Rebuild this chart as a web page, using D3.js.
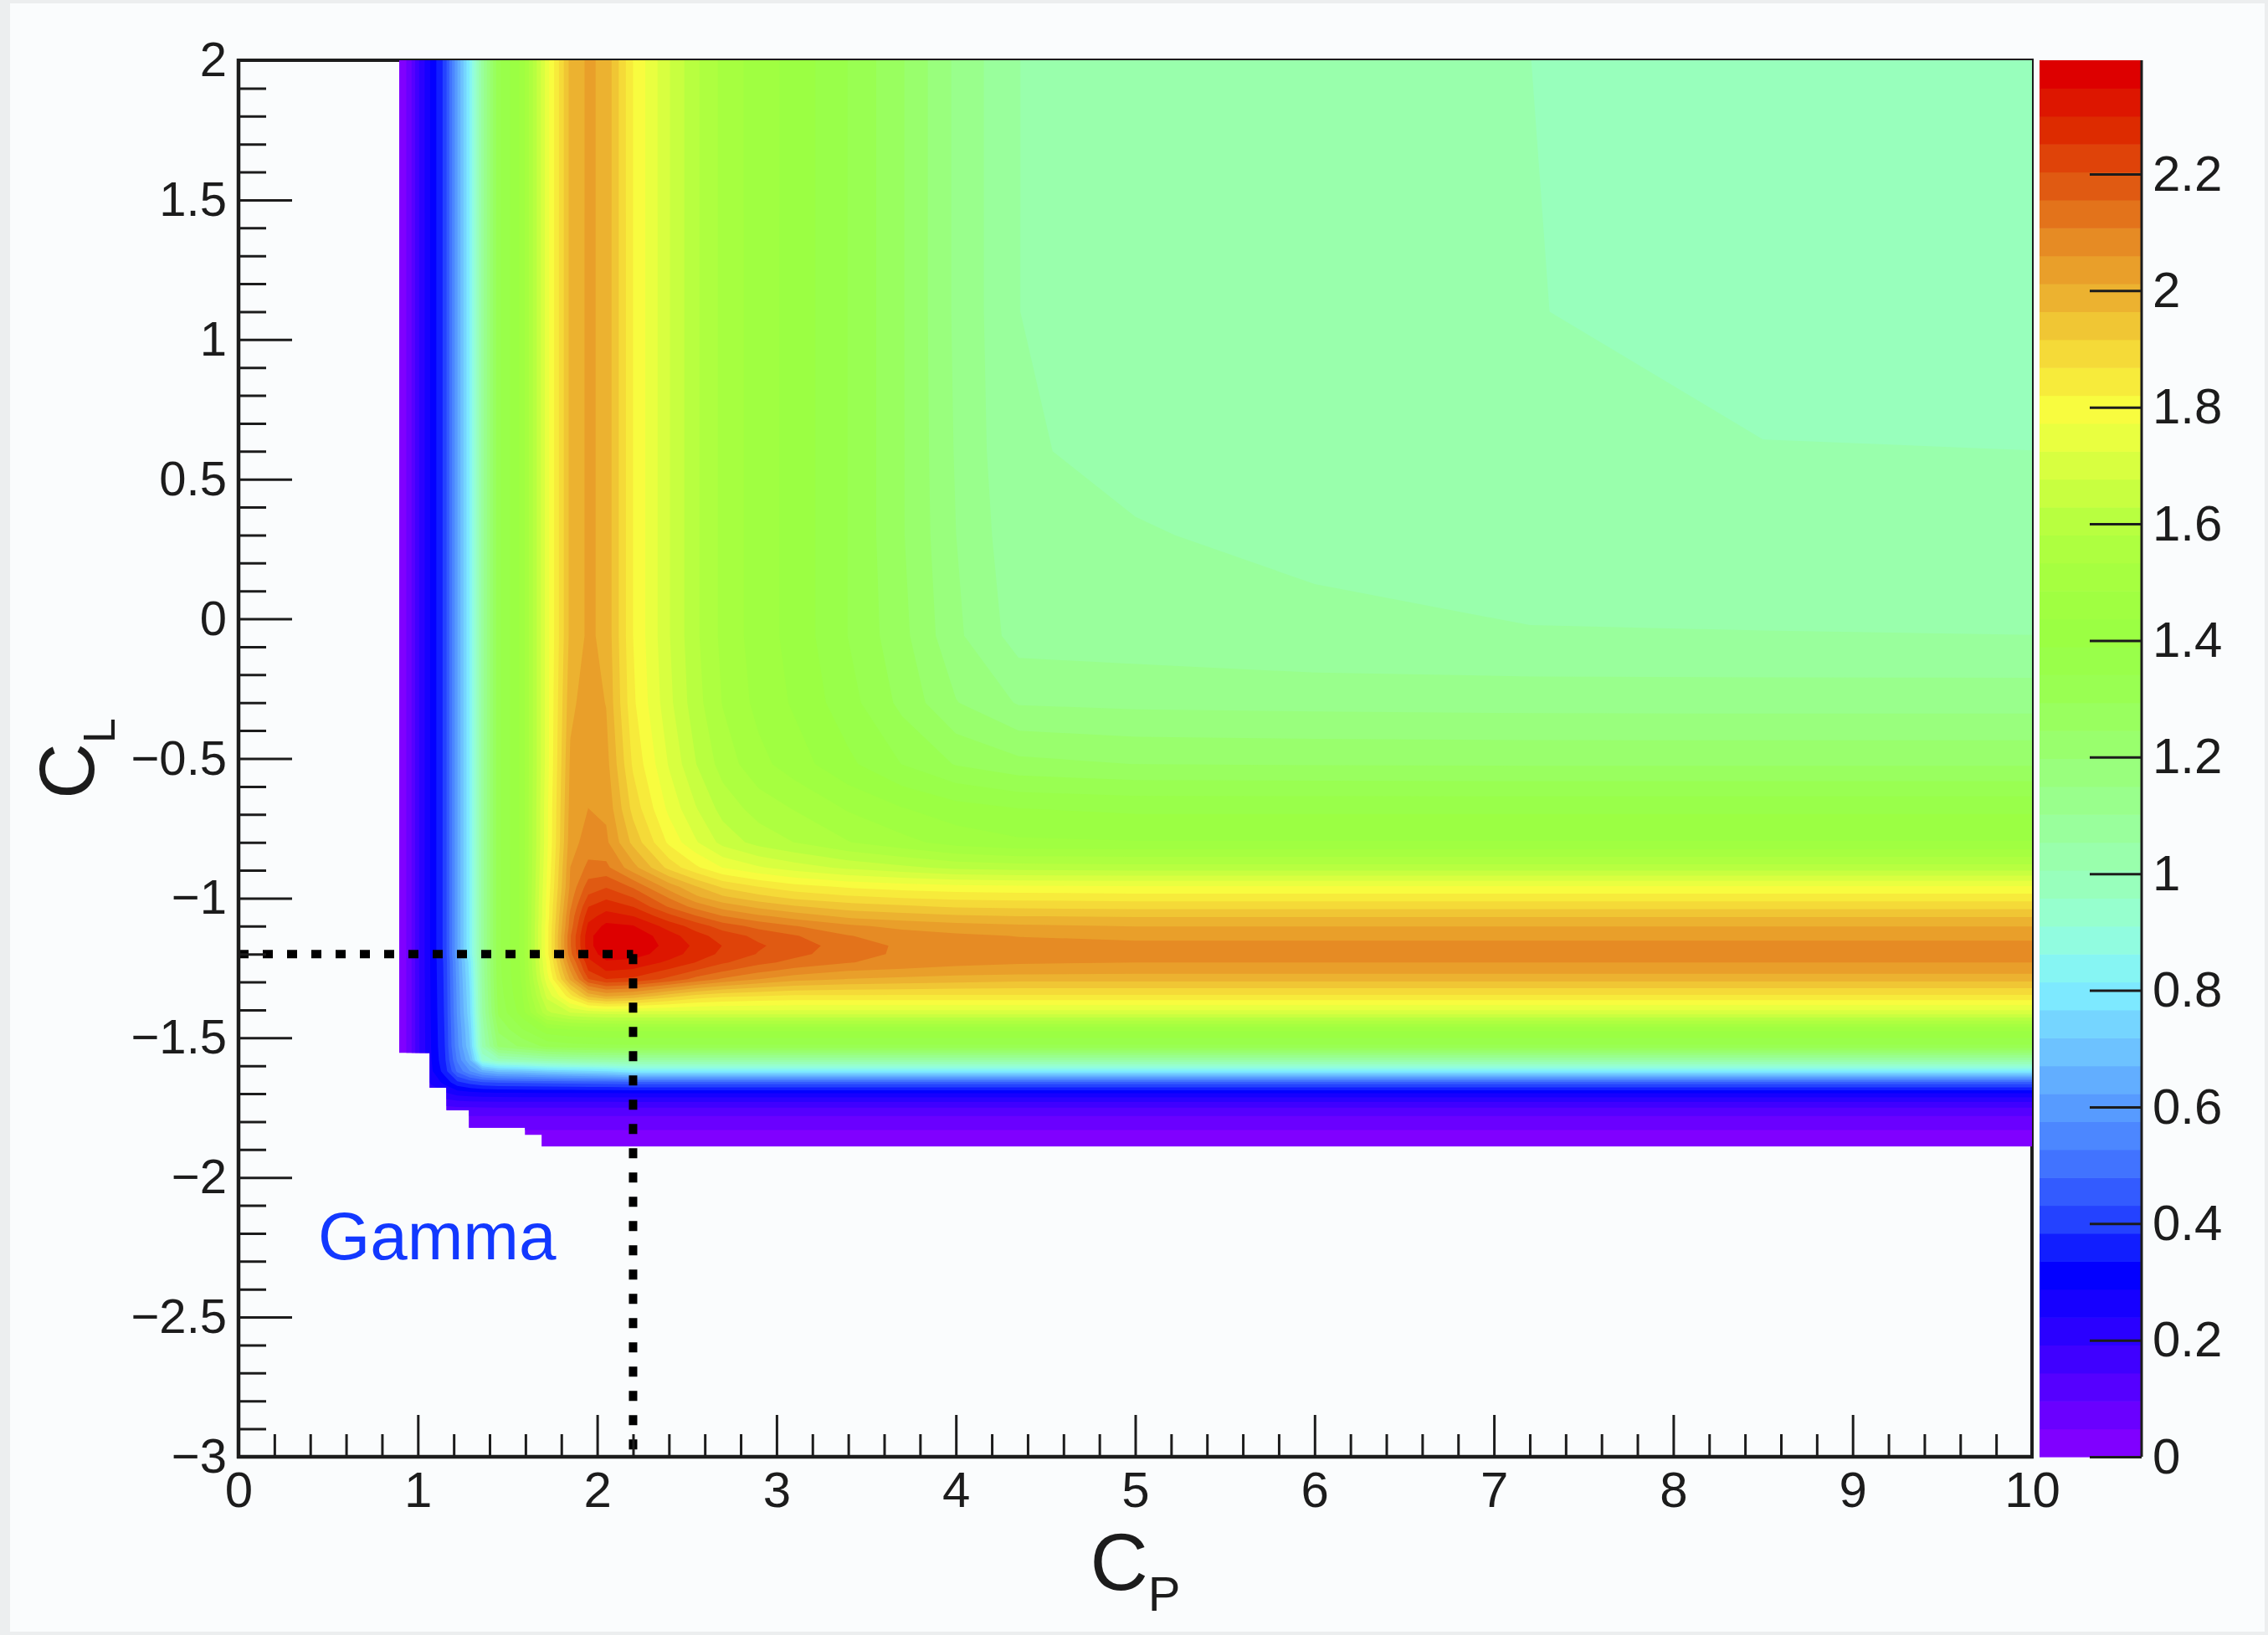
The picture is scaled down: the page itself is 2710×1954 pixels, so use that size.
<!DOCTYPE html>
<html>
<head>
<meta charset="utf-8">
<script src="https://cdn.jsdelivr.net/npm/d3@7"></script>
<style>
  html, body { margin: 0; padding: 0; background: #fafcfd; }
  svg { display: block; }
  text { font-family: "Liberation Sans", Arial, Helvetica, sans-serif; }
</style>
</head>
<body>
<svg id="chart" width="2710" height="1954"></svg>
<script>
// ---- data -------------------------------------------------------------
// grid nodes of the map (C_P across, C_L up)
const cpNodes = [0.89, 0.95, 1.0, 1.07, 1.15, 1.22, 1.29, 1.36, 1.45, 1.58, 1.72, 1.85, 1.95, 2.05,
                 2.2, 2.4, 2.55, 2.7, 2.9, 3.1, 3.4, 3.7, 4.0, 4.35, 5.0, 6.0, 7.2, 8.5, 10.0];
const clNodes = [-1.89, -1.84, -1.79, -1.74, -1.70, -1.66, -1.62, -1.58, -1.53, -1.47, -1.41,
                 -1.35, -1.29, -1.26, -1.23, -1.20, -1.17, -1.135, -1.10, -1.065, -1.03, -0.995,
                 -0.96, -0.89, -0.80, -0.68, -0.52, -0.30, -0.06, 0.30, 0.60, 1.10, 2.0];
// z values, one row per clNodes entry (bottom row first), one column per cpNodes entry
const zValues = [
  [0.007,0.01,0.01,0.01,0.01,0.01,0.01,0.01,0.01,0.01,0.01,0.01,0.01,0.01,0.01,0.01,0.01,0.01,0.01,0.01,0.01,0.01,0.01,0.01,0.01,0.01,0.01,0.01,0.01],
  [0.01,0.033,0.039,0.04,0.04,0.04,0.04,0.04,0.04,0.04,0.04,0.04,0.04,0.04,0.04,0.04,0.04,0.04,0.04,0.04,0.04,0.04,0.04,0.04,0.04,0.04,0.04,0.04,0.04],
  [0.01,0.048,0.073,0.077,0.078,0.079,0.08,0.08,0.08,0.08,0.08,0.08,0.08,0.08,0.08,0.08,0.08,0.08,0.08,0.08,0.08,0.08,0.08,0.08,0.08,0.08,0.08,0.08,0.08],
  [0.01,0.056,0.12,0.14,0.149,0.155,0.157,0.158,0.159,0.159,0.16,0.16,0.16,0.16,0.16,0.16,0.16,0.16,0.16,0.16,0.16,0.16,0.16,0.16,0.16,0.16,0.16,0.16,0.16],
  [0.01,0.059,0.151,0.201,0.229,0.255,0.265,0.271,0.274,0.275,0.277,0.277,0.278,0.278,0.28,0.28,0.28,0.28,0.28,0.28,0.28,0.28,0.28,0.28,0.28,0.28,0.28,0.28,0.28],
  [0.01,0.06,0.168,0.245,0.302,0.369,0.401,0.423,0.435,0.439,0.445,0.448,0.451,0.453,0.46,0.46,0.46,0.46,0.46,0.46,0.46,0.46,0.46,0.46,0.46,0.46,0.46,0.46,0.46],
  [0.01,0.06,0.176,0.273,0.358,0.49,0.573,0.643,0.686,0.70,0.728,0.743,0.754,0.765,0.80,0.80,0.80,0.80,0.80,0.80,0.80,0.80,0.80,0.80,0.80,0.80,0.80,0.80,0.80],
  [0.01,0.06,0.177,0.28,0.374,0.534,0.666,0.913,0.983,1.002,1.028,1.038,1.043,1.046,1.05,1.05,1.05,1.05,1.05,1.05,1.05,1.05,1.05,1.05,1.05,1.05,1.05,1.05,1.05],
  [0.01,0.06,0.178,0.283,0.383,0.562,0.717,1.012,1.21,1.255,1.307,1.321,1.326,1.329,1.33,1.33,1.33,1.33,1.33,1.33,1.33,1.33,1.33,1.33,1.33,1.33,1.33,1.33,1.33],
  [0.01,0.06,0.179,0.284,0.386,0.57,0.732,1.032,1.255,1.337,1.419,1.439,1.446,1.449,1.45,1.45,1.45,1.45,1.45,1.45,1.45,1.45,1.45,1.45,1.45,1.45,1.45,1.45,1.45],
  [0.01,0.06,0.179,0.286,0.389,0.583,0.755,1.056,1.302,1.411,1.618,1.676,1.693,1.699,1.70,1.70,1.70,1.70,1.70,1.70,1.70,1.70,1.70,1.70,1.70,1.70,1.70,1.70,1.70],
  [0.01,0.06,0.179,0.287,0.391,0.588,0.765,1.064,1.315,1.431,1.69,1.85,1.98,2.02,2.0,1.94,1.9,1.88,1.87,1.86,1.86,1.86,1.86,1.86,1.86,1.86,1.86,1.86,1.86],
  [0.01,0.06,0.179,0.288,0.393,0.595,0.777,1.071,1.324,1.443,1.75,2.02,2.2,2.25,2.24,2.19,2.14,2.1,2.06,2.03,2.01,2.0,1.99,1.98,1.98,1.98,1.98,1.98,1.98],
  [0.01,0.06,0.18,0.289,0.394,0.6,0.785,1.074,1.326,1.446,1.77,2.06,2.25,2.3,2.29,2.24,2.2,2.16,2.12,2.09,2.06,2.05,2.04,2.035,2.03,2.03,2.03,2.03,2.03],
  [0.01,0.06,0.18,0.289,0.395,0.602,0.79,1.076,1.328,1.448,1.78,2.1,2.28,2.34,2.33,2.29,2.25,2.21,2.17,2.14,2.11,2.09,2.075,2.065,2.06,2.06,2.06,2.06,2.06],
  [0.01,0.06,0.18,0.29,0.40,0.62,0.82,1.08,1.33,1.45,1.8,2.14,2.32,2.37,2.37,2.32,2.28,2.24,2.2,2.17,2.125,2.1,2.085,2.075,2.07,2.07,2.07,2.07,2.07],
  [0.01,0.06,0.18,0.29,0.40,0.62,0.82,1.08,1.33,1.45,1.8,2.15,2.33,2.39,2.39,2.33,2.29,2.25,2.21,2.18,2.13,2.1,2.085,2.075,2.07,2.07,2.07,2.07,2.07],
  [0.01,0.06,0.18,0.29,0.40,0.62,0.82,1.08,1.33,1.45,1.8,2.15,2.33,2.39,2.38,2.32,2.27,2.23,2.19,2.16,2.11,2.085,2.07,2.058,2.05,2.05,2.05,2.05,2.05],
  [0.01,0.06,0.18,0.29,0.40,0.62,0.82,1.08,1.33,1.45,1.8,2.13,2.31,2.36,2.35,2.28,2.23,2.18,2.14,2.11,2.07,2.045,2.03,2.02,2.01,2.01,2.01,2.01,2.01],
  [0.01,0.06,0.18,0.29,0.40,0.62,0.82,1.08,1.33,1.45,1.79,2.12,2.28,2.32,2.3,2.22,2.16,2.11,2.07,2.04,2.0,1.985,1.972,1.965,1.96,1.96,1.96,1.96,1.96],
  [0.01,0.06,0.18,0.29,0.40,0.62,0.82,1.08,1.33,1.45,1.79,2.1,2.25,2.28,2.25,2.15,2.09,2.04,2.0,1.97,1.94,1.925,1.91,1.905,1.90,1.90,1.90,1.90,1.90],
  [0.01,0.06,0.18,0.29,0.40,0.62,0.82,1.08,1.33,1.45,1.785,2.085,2.21,2.24,2.2,2.1,2.02,1.97,1.93,1.9,1.875,1.86,1.85,1.845,1.84,1.84,1.84,1.84,1.84],
  [0.01,0.06,0.18,0.29,0.40,0.62,0.82,1.08,1.33,1.45,1.78,2.07,2.18,2.2,2.15,2.04,1.97,1.91,1.87,1.84,1.815,1.8,1.79,1.785,1.78,1.78,1.78,1.78,1.78],
  [0.01,0.06,0.18,0.29,0.40,0.62,0.82,1.08,1.33,1.45,1.77,2.06,2.12,2.12,2.03,1.9,1.83,1.77,1.73,1.70,1.665,1.64,1.615,1.605,1.60,1.60,1.60,1.60,1.60],
  [0.01,0.06,0.18,0.29,0.40,0.62,0.82,1.08,1.33,1.45,1.76,2.04,2.08,2.07,1.95,1.81,1.73,1.66,1.61,1.58,1.535,1.50,1.465,1.445,1.44,1.44,1.44,1.44,1.44],
  [0.01,0.06,0.18,0.29,0.40,0.62,0.82,1.08,1.33,1.45,1.76,2.03,2.06,2.05,1.9,1.76,1.68,1.61,1.56,1.53,1.48,1.44,1.41,1.39,1.38,1.38,1.38,1.38,1.38],
  [0.01,0.06,0.18,0.29,0.40,0.62,0.82,1.08,1.33,1.45,1.75,2.02,2.045,2.03,1.86,1.72,1.63,1.56,1.5,1.46,1.4,1.34,1.29,1.26,1.245,1.242,1.24,1.24,1.24],
  [0.01,0.06,0.18,0.29,0.40,0.62,0.82,1.08,1.33,1.45,1.75,2.0,2.035,2.01,1.83,1.69,1.6,1.53,1.47,1.43,1.36,1.28,1.2,1.145,1.138,1.134,1.131,1.13,1.13],
  [0.01,0.06,0.18,0.29,0.40,0.62,0.82,1.08,1.33,1.45,1.75,1.98,2.02,2.0,1.82,1.68,1.59,1.52,1.46,1.42,1.34,1.26,1.16,1.08,1.075,1.062,1.056,1.055,1.054],
  [0.01,0.06,0.18,0.29,0.40,0.62,0.82,1.08,1.33,1.45,1.75,1.98,2.02,2.0,1.82,1.68,1.59,1.52,1.46,1.42,1.34,1.25,1.15,1.066,1.056,1.046,1.035,1.031,1.03],
  [0.01,0.06,0.18,0.29,0.40,0.62,0.82,1.08,1.33,1.45,1.75,1.98,2.02,2.0,1.82,1.68,1.59,1.52,1.46,1.42,1.34,1.25,1.145,1.057,1.046,1.03,1.015,1.007,1.006],
  [0.01,0.06,0.18,0.29,0.40,0.62,0.82,1.08,1.33,1.45,1.75,1.98,2.02,2.0,1.82,1.68,1.59,1.52,1.46,1.42,1.34,1.25,1.14,1.054,1.04,1.026,1.007,0.994,0.99],
  [0.01,0.06,0.18,0.29,0.40,0.62,0.82,1.08,1.33,1.45,1.75,1.98,2.02,2.0,1.82,1.68,1.59,1.52,1.46,1.42,1.34,1.25,1.14,1.054,1.04,1.025,1.006,0.99,0.98]
];
// lower-left edge of the filled region (staircase of empty cells)
const stepCp = [0.896, 1.067, 1.160, 1.285, 1.597, 1.690];
const stepCl = [-1.554, -1.679, -1.759, -1.822, -1.847, -1.889];

// axis ranges and ticks
const cpDomain = [0, 10];
const clDomain = [-3, 2];
const xMajor = d3.range(0, 10.001, 1);
const xMinor = d3.range(0, 10.001, 0.2);
const yMajor = d3.range(-3, 2.001, 0.5);
const yMinor = d3.range(-3, 2.001, 0.1);
const zTicks = [0, 0.2, 0.4, 0.6, 0.8, 1.0, 1.2, 1.4, 1.6, 1.8, 2.0, 2.2];
const zMax = 2.395;
const nContours = 50;

// colour palette
const paletteValues = [0, 0.1, 0.2, 0.3, 0.4, 0.5, 0.6, 0.7, 0.8, 0.9, 1.0, 1.1, 1.2, 1.3,
                       1.4, 1.5, 1.6, 1.7, 1.8, 1.9, 2.0, 2.1, 2.2, 2.3, 2.395];
const paletteColors = ["#8000ff","#5400ff","#2800ff","#0000ff","#2848ff","#4478ff","#5aa0ff",
                       "#70c8ff","#80f0ff","#95ffd8","#99ffb4","#99ff94","#99ff74","#99ff56",
                       "#99ff44","#a4ff40","#b4ff40","#d4ff40","#f8ff40","#f6dc38","#ecb430",
                       "#e68c24","#e05a12","#dd2a00","#dd0000"];

// marked working point
const markCp = 2.2;
const markCl = -1.2;
const noteText = "Gamma";

// ---- layout -----------------------------------------------------------
const W = 2710, H = 1954;
const frame = { left: 285, right: 2428, top: 72, bottom: 1741 };
const bar = { left: 2437, right: 2559 };
const ink = "#1c1c1c";
const fmt = d3.format("~g");

const x = d3.scaleLinear(cpDomain, [frame.left, frame.right]);
const y = d3.scaleLinear(clDomain, [frame.bottom, frame.top]);
const z = d3.scaleLinear([0, zMax], [frame.bottom, frame.top]);
const palette = d3.scaleLinear(paletteValues, paletteColors).interpolate(d3.interpolateRgb);
const step = zMax / nContours;
const bandColor = k => palette(k * zMax / (nContours - 1));

const svg = d3.select("#chart");

// page
svg.append("rect").attr("width", W).attr("height", H).attr("fill", "#eceeef");
svg.append("rect").attr("x", 12).attr("y", 4).attr("width", W - 16).attr("height", H - 8)
  .attr("fill", "#fafcfd");

// frame (drawn first; the map covers its inner half)
svg.append("rect")
  .attr("x", frame.left).attr("y", frame.top)
  .attr("width", frame.right - frame.left).attr("height", frame.bottom - frame.top)
  .attr("fill", "none").attr("stroke", ink).attr("stroke-width", 4);

// ---- filled contour map -------------------------------------------------
const nx = cpNodes.length, ny = clNodes.length;
const ix = d3.scaleLinear().domain(d3.range(nx)).range(cpNodes).clamp(true);
const iy = d3.scaleLinear().domain(d3.range(ny)).range(clNodes).clamp(true);
const gridToPixel = d3.geoTransform({
  point(gx, gy) { this.stream.point(x(ix(gx - 0.5)), y(iy(gy - 0.5))); }
});
const path = d3.geoPath(gridToPixel);
const bands = d3.contours()
  .size([nx, ny])
  .thresholds(d3.range(nContours).map(k => k * step))(zValues.flat());

// clip to the filled region
const edge = [[stepCp[0], clDomain[1]]];
stepCp.forEach((c, i) => {
  edge.push([c, stepCl[i]]);
  edge.push([i < stepCp.length - 1 ? stepCp[i + 1] : cpDomain[1], stepCl[i]]);
});
edge.push([cpDomain[1], clDomain[1]]);
svg.append("clipPath").attr("id", "mapClip")
  .append("polygon")
  .attr("points", edge.map(p => [x(p[0]), y(p[1])].join(",")).join(" "));

svg.append("g").attr("clip-path", "url(#mapClip)")
  .selectAll("path").data(bands).join("path")
  .attr("d", path)
  .attr("fill", (d, k) => bandColor(k))
  .attr("fill-rule", "evenodd");

// ---- colour bar ---------------------------------------------------------
svg.append("g").selectAll("rect").data(d3.range(nContours)).join("rect")
  .attr("x", bar.left).attr("width", bar.right - bar.left)
  .attr("y", k => z((k + 1) * step))
  .attr("height", k => z(k * step) - z((k + 1) * step) + 0.6)
  .attr("fill", k => bandColor(k));

const zAxis = svg.append("g").attr("transform", `translate(${bar.right},0)`)
  .call(d3.axisRight(z).tickValues(zTicks).tickFormat(fmt).tickSize(-62).tickPadding(13));
zAxis.select(".domain").remove();
zAxis.selectAll("line").attr("stroke", ink).attr("stroke-width", 3);
zAxis.attr("font-size", 60).attr("font-family", null);
zAxis.selectAll("text").attr("fill", ink);
svg.append("line").attr("x1", bar.right).attr("x2", bar.right)
  .attr("y1", frame.top).attr("y2", frame.bottom)
  .attr("stroke", ink).attr("stroke-width", 3);

// ---- dotted guide lines ---------------------------------------------------
const guide = svg.append("g").attr("stroke", "#000").attr("stroke-width", 10)
  .attr("stroke-dasharray", "12 17").attr("fill", "none");
guide.append("line")
  .attr("x1", x(cpDomain[0])).attr("x2", x(markCp))
  .attr("y1", y(markCl)).attr("y2", y(markCl));
guide.append("line")
  .attr("x1", x(markCp)).attr("x2", x(markCp))
  .attr("y1", y(markCl)).attr("y2", y(clDomain[0]));

// ---- axes -----------------------------------------------------------------
const onlyMinor = (vals, majors) => vals.filter(v => !majors.some(m => Math.abs(m - v) < 1e-6));

const yAxis = svg.append("g").attr("transform", `translate(${frame.left},0)`)
  .call(d3.axisLeft(y).tickValues(yMajor).tickFormat(fmt).tickSize(-64).tickPadding(14));
const yMinorAxis = svg.append("g").attr("transform", `translate(${frame.left},0)`)
  .call(d3.axisLeft(y).tickValues(onlyMinor(yMinor, yMajor)).tickFormat("").tickSize(-33));
const xAxis = svg.append("g").attr("transform", `translate(0,${frame.bottom})`)
  .call(d3.axisBottom(x).tickValues(xMajor).tickFormat(fmt).tickSize(-50).tickPadding(17));
const xMinorAxis = svg.append("g").attr("transform", `translate(0,${frame.bottom})`)
  .call(d3.axisBottom(x).tickValues(onlyMinor(xMinor, xMajor)).tickFormat("").tickSize(-27));

[yAxis, yMinorAxis, xAxis, xMinorAxis].forEach(g => {
  g.select(".domain").remove();
  g.selectAll("line").attr("stroke", ink).attr("stroke-width", 3);
  g.attr("font-family", null);
  g.selectAll("text").attr("fill", ink);
});
yAxis.attr("font-size", 58);
xAxis.attr("font-size", 60);

// axis lines
svg.append("line").attr("x1", frame.left).attr("x2", frame.left)
  .attr("y1", frame.top - 2).attr("y2", frame.bottom + 2)
  .attr("stroke", ink).attr("stroke-width", 4.5);
svg.append("line").attr("x1", frame.left - 2).attr("x2", frame.right + 2)
  .attr("y1", frame.bottom).attr("y2", frame.bottom)
  .attr("stroke", ink).attr("stroke-width", 4.5);

// axis titles
const xTitle = svg.append("text")
  .attr("x", (frame.left + frame.right) / 2).attr("y", 1900)
  .attr("text-anchor", "middle").attr("font-size", 96).attr("fill", ink);
xTitle.append("tspan").text("C");
xTitle.append("tspan").attr("font-size", 58).attr("dy", 25).text("P");

const yTitle = svg.append("text")
  .attr("transform", `translate(112,${(frame.top + frame.bottom) / 2}) rotate(-90)`)
  .attr("text-anchor", "middle").attr("font-size", 92).attr("fill", ink);
yTitle.append("tspan").text("C");
yTitle.append("tspan").attr("font-size", 54).attr("dy", 25).text("L");

// annotation
svg.append("text")
  .attr("x", 380).attr("y", 1505)
  .attr("font-size", 80).attr("fill", "#1238ff")
  .text(noteText);
</script>
</body>
</html>
